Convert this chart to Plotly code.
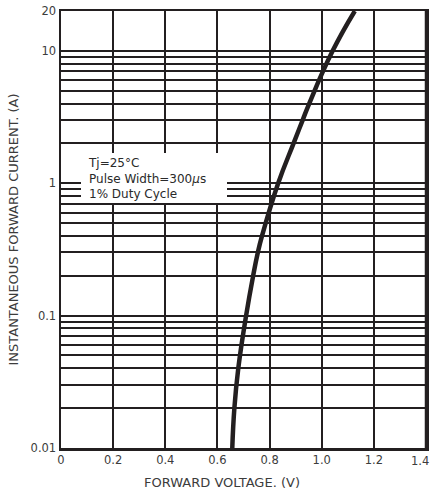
import plotly.graph_objects as go
import math

# Curve data
voltage = [0.657, 0.665, 0.68, 0.710, 0.737, 0.755, 0.771, 0.833, 0.892, 0.927, 0.952, 1.042, 1.127]
current = [0.01, 0.02, 0.04, 0.1, 0.2, 0.3, 0.4, 1, 2, 3, 4, 10, 20]

x_ticks = [0, 0.2, 0.4, 0.6, 0.8, 1.0, 1.2, 1.4]
x_labels = ["0", "0.2", "0.4", "0.6", "0.8", "1.0", "1.2", "1.4"]

y_grid = [0.01, 0.02, 0.03, 0.04, 0.05, 0.06, 0.07, 0.08, 0.09,
          0.1, 0.2, 0.3, 0.4, 0.5, 0.6, 0.7, 0.8, 0.9,
          1, 2, 3, 4, 5, 6, 7, 8, 9, 10, 20]
y_labeled = {0.01: "0.01", 0.1: "0.1", 1: "1", 10: "10", 20: "20"}
y_text = [y_labeled.get(v, "") for v in y_grid]

note_lines = ["Tj=25°C", "Pulse Width=300<i>µ</i>s", "1% Duty Cycle"]
x_title = "FORWARD VOLTAGE. (V)"
y_title = "INSTANTANEOUS FORWARD CURRENT. (A)"
top_title = "CHARACTERISTICS PER BRIDGE ELEMENT"

ink = "#231f20"
txt = "#3c3c3c"
ff = "DejaVu Sans, Liberation Sans, sans-serif"

W, H = 432, 493
L, R, T, B = 61, 6, 11, 45
PW, PH = W - L - R, H - T - B

def px_x(p):
    return (p - L) / PW

def px_y(p):
    return (H - B - p) / PH

# last x label is placed as an annotation so it stays inside the page
x_axis_text = x_labels[:-1] + [""]

fig = go.Figure()
fig.add_trace(go.Scatter(
    x=voltage, y=current, mode="lines",
    line=dict(color=ink, width=4.5, shape="spline", smoothing=1.3),
    showlegend=False, hoverinfo="skip"))

fig.update_layout(
    width=W, height=H,
    margin=dict(l=L, r=R, t=T, b=B),
    paper_bgcolor="white", plot_bgcolor="white",
    font=dict(family=ff, size=11, color=txt),
    xaxis=dict(
        range=[0, 1.4], tickmode="array", tickvals=x_ticks, ticktext=x_axis_text,
        showgrid=True, gridcolor=ink, gridwidth=2, zeroline=False,
        showline=True, linecolor=ink, linewidth=2.5, mirror=True,
        ticks="", tickfont=dict(size=11.5, color=txt, family=ff), automargin=False,
    ),
    yaxis=dict(
        type="log", range=[-2, math.log10(20)],
        tickmode="array", tickvals=y_grid, ticktext=y_text,
        showgrid=True, gridcolor=ink, gridwidth=2, zeroline=False,
        showline=True, linecolor=ink, linewidth=2.5, mirror=True,
        ticks="", tickfont=dict(size=11.5, color=txt, family=ff), automargin=False,
    ),
)

# explicit right border of the grid
fig.add_shape(type="line", xref="x", yref="paper", x0=x_ticks[-1], x1=x_ticks[-1], y0=0, y1=1,
              line=dict(color=ink, width=2.5), layer="above")
fig.add_annotation(xref="paper", yref="paper", x=px_x(431), y=0, yshift=-4,
                   xanchor="right", yanchor="top", text=x_labels[-1], showarrow=False,
                   font=dict(size=11.5, color=txt, family=ff))

# white note box
fig.add_shape(type="rect", xref="paper", yref="paper",
              x0=px_x(81), x1=px_x(227), y0=px_y(203), y1=px_y(153),
              fillcolor="white", line=dict(width=0), layer="above")
fig.add_annotation(xref="paper", yref="paper", x=px_x(86), y=px_y(178),
                   xanchor="left", yanchor="middle", text="<br>".join(note_lines),
                   align="left", showarrow=False,
                   font=dict(size=12, color="#2a2a2a", family=ff))

# axis titles
fig.add_annotation(xref="paper", yref="paper", x=px_x(222), y=px_y(482),
                   xanchor="center", yanchor="middle", text=x_title, showarrow=False,
                   font=dict(size=13, color=txt, family=ff))
fig.add_annotation(xref="paper", yref="paper", x=px_x(13), y=0.5,
                   xanchor="center", yanchor="middle", text=y_title, showarrow=False,
                   textangle=-90, font=dict(size=13, color=txt, family=ff))

# top title (cut off at the top edge as in the reference)
fig.add_annotation(xref="paper", yref="paper", x=px_x(70), y=px_y(4),
                   xanchor="left", yanchor="bottom", text=top_title, showarrow=False,
                   font=dict(size=17, color="#555555", family=ff))

fig.write_html(
    "out.html",
    config={"displayModeBar": False, "staticPlot": True},
    post_script=("document.documentElement.style.overflow='hidden';"
                 "document.body.style.overflow='hidden';"
                 "document.body.style.margin='0';"),
)
